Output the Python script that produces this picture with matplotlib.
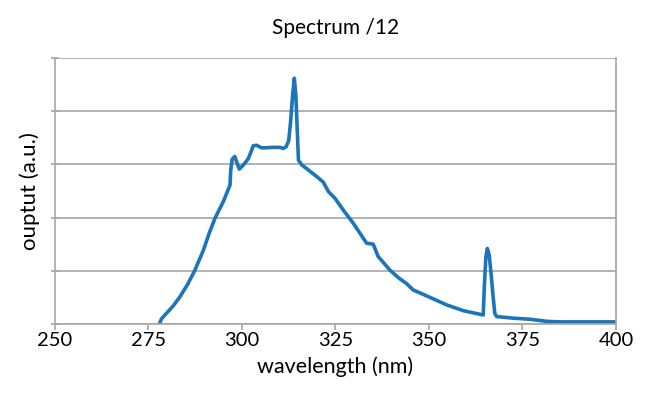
import matplotlib
matplotlib.use("Agg")
import matplotlib.pyplot as plt

plt.rcParams["font.family"] = ["Lato", "DejaVu Sans"]

# wavelength (nm) and output (a.u.)
wavelength = [
    277.9, 278.5, 279.4, 281.5, 283.4, 285.5, 287.4, 289.7, 291.2, 292.8,
    295.0, 296.8, 297.0, 297.4, 298.1, 298.7, 299.3, 300.5, 301.7, 302.5,
    303.0, 303.9, 305.3, 308.4, 310.2, 311.0, 311.8, 312.5, 313.0, 313.6,
    314.0, 314.4, 314.8, 315.1, 316.0, 317.3, 320.0, 321.7, 323.1, 324.9,
    327.1, 329.8, 333.3, 335.1, 336.4, 339.6, 342.0, 344.0, 345.8, 350.3,
    354.7, 359.2, 362.5, 364.5, 364.8, 365.2, 365.6, 366.1, 366.6, 367.1,
    367.6, 368.1, 372.5, 377.0, 381.5, 385.0, 390.4, 400.0,
]
output = [
    0.00, 0.10, 0.17, 0.33, 0.51, 0.75, 1.01, 1.39, 1.70, 1.99,
    2.30, 2.61, 2.90, 3.10, 3.15, 3.02, 2.91, 3.00, 3.11, 3.25,
    3.35, 3.36, 3.31, 3.32, 3.32, 3.30, 3.33, 3.45, 3.80, 4.35,
    4.62, 4.30, 3.60, 3.08, 2.99, 2.92, 2.77, 2.67, 2.49, 2.36,
    2.14, 1.89, 1.52, 1.50, 1.27, 1.01, 0.86, 0.76, 0.64, 0.50,
    0.36, 0.25, 0.20, 0.17, 0.70, 1.25, 1.42, 1.30, 0.95, 0.55,
    0.20, 0.14, 0.11, 0.09, 0.05, 0.04, 0.04, 0.04,
]
x_ticks = [250, 275, 300, 325, 350, 375, 400]

fig = plt.figure(figsize=(6.6, 3.95), dpi=100)
ax = fig.add_axes([0.0833, 0.1797, 0.85, 0.6735])

ax.plot(wavelength, output, color="#1b75bb", linewidth=2.6,
        solid_joinstyle="round", solid_capstyle="round")

ax.set_xlim(250, 400)
ax.set_ylim(0, 5)
ax.set_xticks(x_ticks)
ax.set_yticks(range(6))
ax.set_yticklabels([])
ax.grid(axis="y", color="#a6a6a6", linewidth=1.2)
ax.set_axisbelow(True)
for s in ax.spines.values():
    s.set_color("#a6a6a6")
    s.set_linewidth(1.2)
ax.spines["top"].set_visible(False)
ax.tick_params(axis="both", color="#a6a6a6", length=4, width=1.2,
               labelsize=14.5, pad=2)
ax.tick_params(axis="y", direction="inout", length=6)

ax.set_title("Spectrum /12", fontsize=15, pad=17)
ax.set_xlabel("wavelength (nm)", fontsize=15.5, labelpad=5)
ax.set_ylabel("ouptut (a.u.)", fontsize=16, labelpad=6)

fig.savefig("out.png", dpi=100)
